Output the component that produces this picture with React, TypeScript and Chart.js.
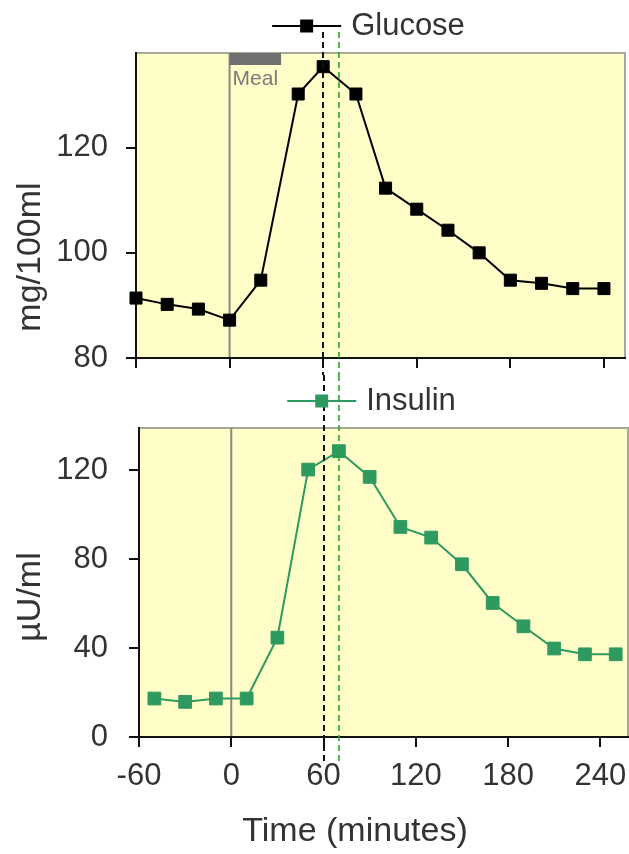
import { useEffect, useRef } from "react";
import { Chart, registerables } from "chart.js";

Chart.register(...registerables);

// ---------- data ----------
const GLUCOSE_LABEL = "Glucose";
const INSULIN_LABEL = "Insulin";
const GLUCOSE_TIME = [-60, -40, -20, 0, 20, 44, 60, 81, 100, 120, 140, 160, 180, 200, 220, 240];
const GLUCOSE_VALUES = [91.4, 90.2, 89.3, 87.2, 94.8, 130.2, 135.4, 130.2, 112.3, 108.3, 104.3, 100, 94.8, 94.2, 93.2, 93.2];
const INSULIN_TIME = [-50, -30, -10, 10, 30, 50, 70, 90, 110, 130, 150, 170, 190, 210, 230, 250];
const INSULIN_VALUES = [17.3, 15.8, 17.3, 17.3, 44.7, 120.3, 128.6, 117, 94.5, 89.7, 77.7, 60.3, 49.8, 39.8, 37.2, 37.2];
const TIME_TICKS = [-60, 0, 60, 120, 180, 240];
const GLUCOSE_TICKS = [80, 100, 120];
const INSULIN_TICKS = [0, 40, 80, 120];
const MEAL_START = 0;
const MEAL_END = 33;
const MEAL_LABEL = "Meal";
const X_TITLE = "Time (minutes)";
const GLUCOSE_UNIT = "mg/100ml";
const INSULIN_UNIT = "µU/ml";

// ---------- style ----------
const FONT = "'Liberation Sans', Arial, sans-serif";
const TEXT = "#333333";
const PLOT_BG = "#fffec8";
const FRAME = "#a8a898";
const GLUCOSE_COLOR = "#000000";
const INSULIN_COLOR = "#2f9a60";
const DASH_BLACK = "#111111";
const DASH_GREEN = "#22aa22";

const peakTime = (times: number[], values: number[]) => times[values.indexOf(Math.max(...values))];
const GLUCOSE_PEAK = peakTime(GLUCOSE_TIME, GLUCOSE_VALUES);
const INSULIN_PEAK = peakTime(INSULIN_TIME, INSULIN_VALUES);

type PanelCfg = {
  legendLabel: string;
  legendColor: string;
  unit: string;
  unitCy: number;
  meal: boolean;
  dashY0: number;
  dashY1: number;
  xTitle?: { text: string; cx: number; cy: number };
};

function makePanelPlugin(cfg: PanelCfg) {
  return {
    id: "panel",
    beforeDraw(chart: any) {
      const { ctx, chartArea: ca, scales } = chart;
      const x = scales.x;
      ctx.save();
      ctx.fillStyle = PLOT_BG;
      ctx.fillRect(ca.left, ca.top, ca.right - ca.left, ca.bottom - ca.top);
      ctx.strokeStyle = FRAME;
      ctx.lineWidth = 2;
      ctx.strokeRect(ca.left, ca.top, ca.right - ca.left, ca.bottom - ca.top);
      // zero-time line
      const x0 = x.getPixelForValue(0);
      ctx.strokeStyle = "#8a8a80";
      ctx.lineWidth = 2;
      ctx.beginPath();
      ctx.moveTo(x0, ca.top);
      ctx.lineTo(x0, ca.bottom);
      ctx.stroke();
      if (cfg.meal) {
        const m0 = x.getPixelForValue(MEAL_START);
        const m1 = x.getPixelForValue(MEAL_END);
        ctx.fillStyle = "#707070";
        ctx.fillRect(m0, ca.top, m1 - m0, 12);
        ctx.fillStyle = "#7a7a7a";
        ctx.font = `21px ${FONT}`;
        ctx.textAlign = "left";
        ctx.textBaseline = "top";
        ctx.fillText(MEAL_LABEL, m0 + 3, ca.top + 16);
      }
      ctx.restore();
    },
    afterDatasetsDraw(chart: any) {
      const { ctx, scales } = chart;
      const x = scales.x;
      ctx.save();
      const lines = [
        { t: GLUCOSE_PEAK, c: DASH_BLACK, w: 2 },
        { t: INSULIN_PEAK, c: DASH_GREEN, w: 1.6 },
      ];
      for (const l of lines) {
        const px = Math.round(x.getPixelForValue(l.t));
        ctx.strokeStyle = l.c;
        ctx.lineWidth = l.w;
        ctx.setLineDash([6, 4]);
        ctx.beginPath();
        ctx.moveTo(px, cfg.dashY0);
        ctx.lineTo(px, cfg.dashY1);
        ctx.stroke();
      }
      ctx.restore();
    },
    afterDraw(chart: any) {
      const { ctx, chartArea: ca } = chart;
      ctx.save();
      // legend
      ctx.font = `31px ${FONT}`;
      const tw = ctx.measureText(cfg.legendLabel).width;
      const total = 69 + 10 + tw;
      const cx = (ca.left + ca.right) / 2 - 12;
      const lx = cx - total / 2;
      const ly = ca.top - 27;
      ctx.strokeStyle = cfg.legendColor;
      ctx.lineWidth = 2;
      ctx.beginPath();
      ctx.moveTo(lx, ly);
      ctx.lineTo(lx + 69, ly);
      ctx.stroke();
      ctx.fillStyle = cfg.legendColor;
      ctx.fillRect(lx + 34.5 - 6.5, ly - 6.5, 13, 13);
      ctx.fillStyle = TEXT;
      ctx.textAlign = "left";
      ctx.textBaseline = "middle";
      ctx.fillText(cfg.legendLabel, lx + 79, ly);
      // y unit title
      ctx.font = `34px ${FONT}`;
      ctx.save();
      ctx.translate(31, cfg.unitCy);
      ctx.rotate(-Math.PI / 2);
      ctx.textAlign = "center";
      ctx.textBaseline = "middle";
      ctx.fillText(cfg.unit, 0, 0);
      ctx.restore();
      if (cfg.xTitle) {
        ctx.textAlign = "center";
        ctx.textBaseline = "middle";
        ctx.fillText(cfg.xTitle.text, cfg.xTitle.cx, cfg.xTitle.cy);
      }
      ctx.restore();
    },
  };
}

const GRID = {
  display: true,
  drawOnChartArea: false,
  drawTicks: true,
  tickLength: 10,
  color: "#111111",
  lineWidth: 2,
};
const BORDER = { display: true, color: "#111111", width: 2 };

function setTicks(values: number[]) {
  return (scale: any) => {
    scale.ticks = values.map((v) => ({ value: v }));
  };
}

function fixSize(prop: "width" | "height", size: number) {
  return (s: any) => {
    s[prop] = size;
    s.paddingTop = 0;
    s.paddingBottom = 0;
    s.paddingLeft = 0;
    s.paddingRight = 0;
  };
}

function topConfig(): any {
  return {
    type: "line",
    data: {
      datasets: [
        {
          label: GLUCOSE_LABEL,
          data: GLUCOSE_TIME.map((t, i) => ({ x: t, y: GLUCOSE_VALUES[i] })),
          borderColor: GLUCOSE_COLOR,
          backgroundColor: GLUCOSE_COLOR,
          borderWidth: 2,
          pointStyle: "rect",
          pointRadius: 8.5,
          pointBorderWidth: 1,
          pointBorderColor: GLUCOSE_COLOR,
          pointBackgroundColor: GLUCOSE_COLOR,
          tension: 0,
          clip: false,
        },
      ],
    },
    options: {
      animation: false,
      responsive: false,
      events: [],
      layout: { autoPadding: false, padding: { top: 53, right: 4, bottom: 5, left: 0 } },
      plugins: { legend: { display: false }, tooltip: { enabled: false } },
      scales: {
        x: {
          type: "linear",
          min: -60,
          max: 253.5,
          afterBuildTicks: setTicks(TIME_TICKS),
          afterFit: fixSize("height", 12),
          ticks: { display: false },
          grid: GRID,
          border: BORDER,
        },
        y: {
          type: "linear",
          min: 80,
          max: 138,
          afterBuildTicks: setTicks(GLUCOSE_TICKS),
          afterFit: fixSize("width", 136),
          ticks: { color: TEXT, padding: 18, font: { size: 31, family: FONT } },
          grid: GRID,
          border: BORDER,
        },
      },
    },
    plugins: [
      makePanelPlugin({
        legendLabel: GLUCOSE_LABEL,
        legendColor: GLUCOSE_COLOR,
        unit: GLUCOSE_UNIT,
        unitCy: 257,
        meal: true,
        dashY0: 32,
        dashY1: 375,
      }),
    ],
  };
}

function bottomConfig(): any {
  return {
    type: "line",
    data: {
      datasets: [
        {
          label: INSULIN_LABEL,
          data: INSULIN_TIME.map((t, i) => ({ x: t, y: INSULIN_VALUES[i] })),
          borderColor: INSULIN_COLOR,
          backgroundColor: INSULIN_COLOR,
          borderWidth: 2,
          pointStyle: "rect",
          pointRadius: 9,
          pointBorderWidth: 1,
          pointBorderColor: INSULIN_COLOR,
          pointBackgroundColor: INSULIN_COLOR,
          tension: 0,
          clip: false,
        },
      ],
    },
    options: {
      animation: false,
      responsive: false,
      events: [],
      layout: { autoPadding: false, padding: { top: 53, right: 1, bottom: 57, left: 0 } },
      plugins: { legend: { display: false }, tooltip: { enabled: false } },
      scales: {
        x: {
          type: "linear",
          min: -60,
          max: 258,
          afterBuildTicks: setTicks(TIME_TICKS),
          afterFit: fixSize("height", 60),
          ticks: { color: TEXT, padding: 11, maxRotation: 0, font: { size: 31, family: FONT } },
          grid: GRID,
          border: BORDER,
        },
        y: {
          type: "linear",
          min: 0,
          max: 139,
          afterBuildTicks: setTicks(INSULIN_TICKS),
          afterFit: fixSize("width", 139),
          ticks: { color: TEXT, padding: 21, font: { size: 31, family: FONT } },
          grid: GRID,
          border: BORDER,
        },
      },
    },
    plugins: [
      makePanelPlugin({
        legendLabel: INSULIN_LABEL,
        legendColor: INSULIN_COLOR,
        unit: INSULIN_UNIT,
        unitCy: 222,
        meal: false,
        dashY0: 0,
        dashY1: 386,
        xTitle: { text: X_TITLE, cx: 355, cy: 457 },
      }),
    ],
  };
}

function Panel({ height, build }: { height: number; build: () => any }) {
  const ref = useRef<HTMLCanvasElement | null>(null);
  useEffect(() => {
    if (!ref.current) return;
    const chart = new Chart(ref.current, build());
    return () => chart.destroy();
  }, [build]);
  return <canvas ref={ref} width={629} height={height} style={{ display: "block", width: 629, height }} />;
}

export default function App() {
  useEffect(() => {
    document.body.style.margin = "0";
  }, []);
  return (
    <div style={{ width: 629, height: 854, background: "#ffffff", overflow: "hidden" }}>
      <Panel height={375} build={topConfig} />
      <Panel height={479} build={bottomConfig} />
    </div>
  );
}
